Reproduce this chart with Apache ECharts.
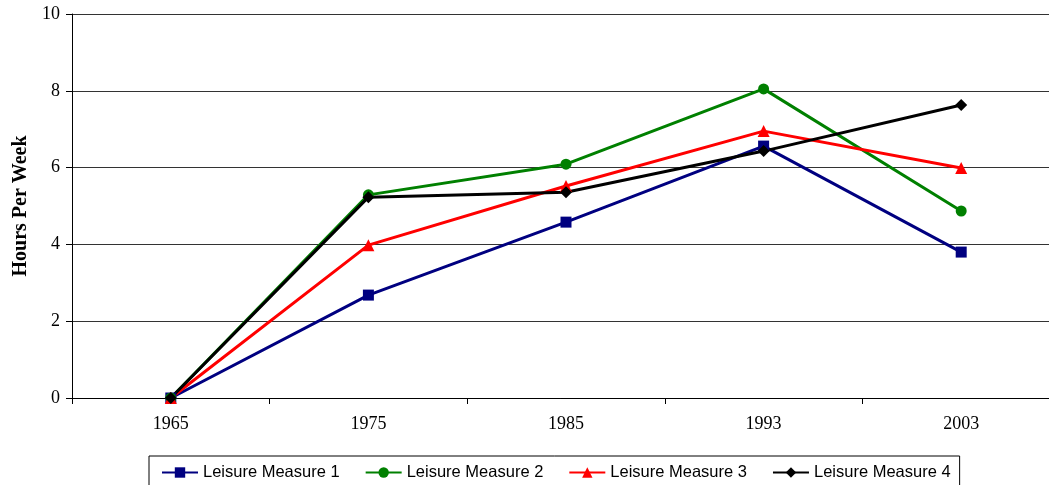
<!DOCTYPE html>
<html>
<head>
<meta charset="utf-8">
<script src="https://cdn.jsdelivr.net/npm/echarts@6/dist/echarts.min.js"></script>
<style>
  html, body { margin: 0; padding: 0; background: #fff; }
  #main { width: 1049px; height: 485px; }
</style>
</head>
<body>
<div id="main"></div>
<script>
var years = ['1965', '1975', '1985', '1993', '2003'];
var measure1 = [0, 2.68, 4.58, 6.56, 3.8];
var measure2 = [0, 5.29, 6.09, 8.05, 4.87];
var measure3 = [0, 3.98, 5.52, 6.95, 5.99];
var measure4 = [0, 5.23, 5.36, 6.43, 7.63];

var myChart = echarts.init(document.getElementById('main'));

function lineSeries(name, data, color, symbol, size) {
    return {
        name: name,
        type: 'line',
        data: data,
        symbol: symbol,
        symbolSize: size,
        showAllSymbol: true,
        lineStyle: { color: color, width: 3 },
        itemStyle: { color: color },
        emphasis: { disabled: true }
    };
}

var option = {
    animation: false,
    grid: { left: 72, right: -11, top: 14, bottom: 87, containLabel: false, outerBoundsMode: 'none' },
    legend: {
        left: 149,
        top: 456,
        padding: [8, 9, 8, 12],
        itemWidth: 36,
        itemHeight: 13,
        itemGap: 25,
        borderColor: '#000',
        borderWidth: 1,
        textStyle: { fontFamily: 'Liberation Sans', fontSize: 16.5, color: '#000' },
        data: ['Leisure Measure 1', 'Leisure Measure 2', 'Leisure Measure 3', 'Leisure Measure 4']
    },
    xAxis: {
        type: 'category',
        data: years,
        boundaryGap: true,
        axisLine: { lineStyle: { color: '#000', width: 1 } },
        axisTick: { show: true, interval: 0, length: 6, lineStyle: { color: '#000' } },
        axisLabel: { fontFamily: 'Liberation Serif', fontSize: 18, color: '#000', margin: 17 },
        splitLine: { show: false }
    },
    yAxis: {
        type: 'value',
        min: 0,
        max: 10,
        interval: 2,
        name: 'Hours Per Week',
        nameLocation: 'middle',
        nameGap: 41,
        nameTextStyle: { fontFamily: 'Liberation Serif', fontSize: 20, fontWeight: 'bold', color: '#000' },
        axisLine: { show: true, lineStyle: { color: '#000', width: 1 } },
        axisTick: { show: true, length: 6, lineStyle: { color: '#000' } },
        axisLabel: { fontFamily: 'Liberation Serif', fontSize: 18, color: '#000', margin: 12 },
        splitLine: { show: true, lineStyle: { color: '#333', width: 1 } }
    },
    series: [
        lineSeries('Leisure Measure 1', measure1, '#000080', 'rect', 11),
        lineSeries('Leisure Measure 2', measure2, '#008000', 'circle', 11),
        lineSeries('Leisure Measure 3', measure3, '#ff0000', 'triangle', 12),
        lineSeries('Leisure Measure 4', measure4, '#000000', 'diamond', 12)
    ]
};

myChart.setOption(option);
</script>
</body>
</html>
